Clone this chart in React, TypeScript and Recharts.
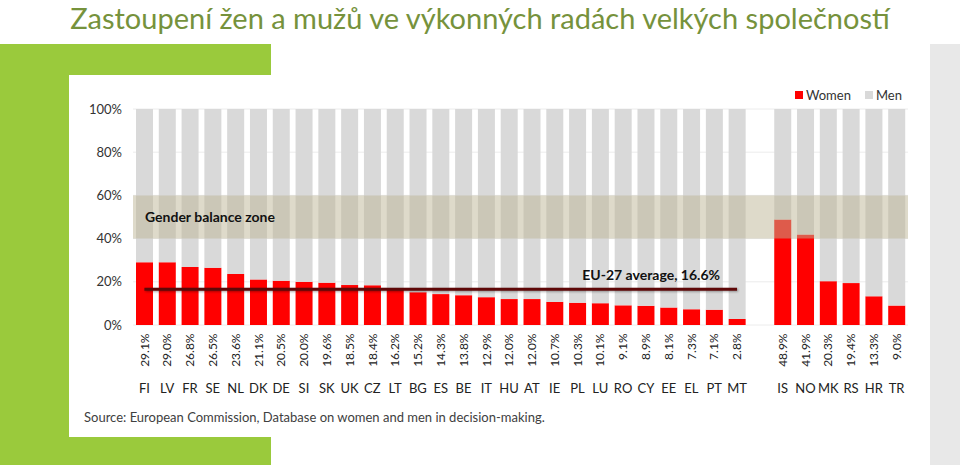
import React from 'react'
import {
  BarChart,
  Bar,
  XAxis,
  YAxis,
  CartesianGrid,
  ReferenceArea,
  ReferenceLine,
} from 'recharts'

// board membership, % women (EU-27 sorted, then candidate/EEA countries)
const countries = [
  'FI', 'LV', 'FR', 'SE', 'NL', 'DK', 'DE', 'SI', 'SK', 'UK', 'CZ', 'LT', 'BG', 'ES',
  'BE', 'IT', 'HU', 'AT', 'IE', 'PL', 'LU', 'RO', 'CY', 'EE', 'EL', 'PT', 'MT',
  '',
  'IS', 'NO', 'MK', 'RS', 'HR', 'TR',
]
const women: (number | null)[] = [
  29.1, 29.0, 26.8, 26.5, 23.6, 21.1, 20.5, 20.0, 19.6, 18.5, 18.4, 16.2, 15.2, 14.3,
  13.8, 12.9, 12.0, 12.0, 10.7, 10.3, 10.1, 9.1, 8.9, 8.1, 7.3, 7.1, 2.8,
  null,
  48.9, 41.9, 20.3, 19.4, 13.3, 9.0,
]
const yTicks = [0, 20, 40, 60, 80, 100]
const euAverage = 16.6
const balanceZone = [40, 60]

const data = countries.map((code, i) => ({
  code,
  women: women[i],
  men: women[i] == null ? null : 100 - (women[i] as number),
}))

const FONT = 'Lato, "Open Sans", sans-serif'
const GREEN = '#9aca3c'

const CountryTick = (props: any) => {
  const { x, y, payload, index } = props
  const v = women[index]
  if (!payload.value) return null
  return (
    <g>
      <text
        transform={`translate(${x},${y + 0.5}) rotate(-90)`}
        textAnchor="end"
        dy="0.35em"
        fontSize={12}
        fontFamily={FONT}
        fill="#222"
      >
        {v != null ? v.toFixed(1) + '%' : ''}
      </text>
      <text x={x} y={y + 55} textAnchor="middle" dy="0.35em" fontSize={13} fontFamily={FONT} fill="#222">
        {payload.value}
      </text>
    </g>
  )
}

const AvgLabel = (props: any) => {
  const vb = props.viewBox || {}
  return (
    <text
      x={vb.x + vb.width - 17}
      y={vb.y - 9}
      textAnchor="end"
      fontSize={14}
      fontWeight="bold"
      fontFamily={FONT}
      fill="#111"
    >
      EU-27 average, 16.6%
    </text>
  )
}

export default function App() {
  return (
    <div style={{ position: 'absolute', left: 0, top: 0, width: 960, height: 465, background: '#fff', overflow: 'hidden', fontFamily: FONT }}>
      <div
        style={{
          position: 'absolute', left: 0, top: 0, width: 960, textAlign: 'center',
          fontSize: 29, lineHeight: '36px', color: '#76923c', fontFamily: FONT,
        }}
      >
        Zastoupení žen a mužů ve výkonných radách velkých společností
      </div>
      {/* frame decoration */}
      <div style={{ position: 'absolute', left: 0, top: 44, width: 271, height: 31, background: GREEN }} />
      <div style={{ position: 'absolute', left: 0, top: 44, width: 69, height: 421, background: GREEN }} />
      <div style={{ position: 'absolute', left: 0, top: 437, width: 271, height: 28, background: GREEN }} />
      <div style={{ position: 'absolute', left: 930, top: 44, width: 30, height: 421, background: '#e8e8e8' }} />

      {/* legend */}
      <div style={{ position: 'absolute', left: 795, top: 87, fontSize: 13, color: '#333', display: 'flex', alignItems: 'center', lineHeight: '16px' }}>
        <span style={{ width: 8, height: 8, background: '#ff0000', display: 'inline-block', marginRight: 3 }} />
        <span>Women</span>
        <span style={{ width: 8, height: 8, background: '#d9d9d9', display: 'inline-block', marginLeft: 14, marginRight: 3 }} />
        <span>Men</span>
      </div>

      <div style={{ position: 'absolute', left: 69, top: 75 }}>
        <BarChart
          width={861}
          height={362}
          data={data}
          margin={{ top: 34, right: 22, bottom: 40, left: 0 }}
          barSize={17}
        >
          <CartesianGrid vertical={false} stroke="#ececec" />
          <YAxis
            domain={[0, 100]}
            ticks={yTicks}
            width={64}
            tickLine={false}
            axisLine={false}
            tickMargin={5}
            tickFormatter={(v: number) => `${v}%`}
            tick={{ fontSize: 13, fill: '#333', fontFamily: FONT }}
          />
          <XAxis
            dataKey="code"
            interval={0}
            tickLine={false}
            axisLine={false}
            height={72}
            tick={<CountryTick />}
          />
          <Bar dataKey="women" stackId="a" fill="#ff0000" isAnimationActive={false} />
          <Bar dataKey="men" stackId="a" fill="#d9d9d9" isAnimationActive={false} />
          <ReferenceArea
            y1={balanceZone[0]}
            y2={balanceZone[1]}
            fill="rgb(190,182,150)"
            fillOpacity={0.5}
            stroke="none"
            zIndex={700}
            label={{
              value: 'Gender balance zone',
              position: 'insideLeft',
              offset: 12,
              fontSize: 14,
              fontWeight: 'bold',
              fill: '#111',
              fontFamily: FONT,
            }}
          />
          <ReferenceLine
            segment={[{ x: 'FI', y: euAverage }, { x: 'MT', y: euAverage }]}
            stroke="#5e0808"
            strokeWidth={3}
            zIndex={800}
            style={{ filter: 'drop-shadow(1px 1px 1px rgba(0,0,0,0.35))' }}
            label={{ content: <AvgLabel /> }}
          />
        </BarChart>
      </div>

      <div style={{ position: 'absolute', left: 84, top: 408, fontSize: 13, color: '#404040', lineHeight: '18px' }}>
        Source: European Commission, Database on women and men in decision-making.
      </div>
    </div>
  )
}
